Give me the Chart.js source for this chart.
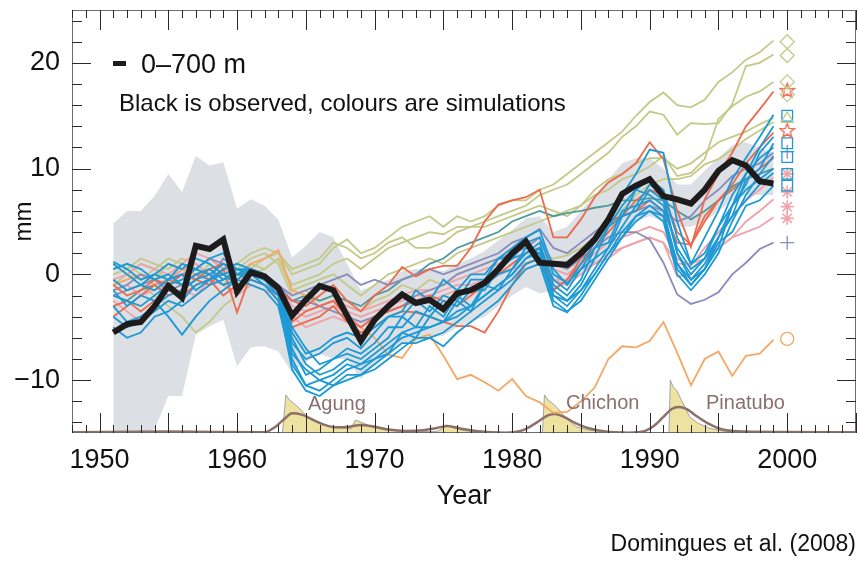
<!DOCTYPE html>
<html>
<head>
<meta charset="utf-8">
<title>Ocean heat content 0-700 m</title>
<script src="https://cdn.jsdelivr.net/npm/chart.js@4"></script>
<style>
    html, body { margin: 0; padding: 0; background: #fff; }
    #wrap { width: 859px; height: 561px; }
</style>
</head>
<body>
<div id="wrap"><canvas id="ohcChart" width="859" height="561"></canvas></div>
<script>
// --- data (mm) ---
const years = [1951, 1952, 1953, 1954, 1955, 1956, 1957, 1958, 1959, 1960,
               1961, 1962, 1963, 1964, 1965, 1966, 1967, 1968, 1969, 1970,
               1971, 1972, 1973, 1974, 1975, 1976, 1977, 1978, 1979, 1980,
               1981, 1982, 1983, 1984, 1985, 1986, 1987, 1988, 1989, 1990,
               1991, 1992, 1993, 1994, 1995, 1996, 1997, 1998, 1999];

const observed = [-5.5, -4.7, -4.5, -3.0, -1.1, -2.2, 2.7, 2.4, 3.3, -1.6,
                  0.2, -0.2, -1.3, -3.9, -2.4, -1.1, -1.5, -3.9, -6.3, -4.3,
                  -3.0, -1.9, -2.7, -2.4, -3.3, -1.8, -1.5, -0.8, 0.5, 2.0,
                  3.1, 1.1, 1.0, 0.9, 2.0, 3.3, 5.2, 7.6, 8.4, 9.0,
                  7.4, 7.1, 6.7, 8.0, 9.8, 10.8, 10.3, 8.8, 8.6];

const bandUpper = [4.8, 6.0, 6.0, 7.4, 9.5, 7.8, 11.2, 10.3, 10.6, 6.2,
                   7.1, 6.5, 5.2, 1.6, 2.7, 4.0, 3.5, 1.0, -1.5, -1.0,
                   -0.5, 0.3, 0.5, 0.5, 0.3, 1.0, 1.5, 2.2, 3.2, 4.2,
                   5.3, 5.5, 4.0, 4.5, 6.0, 7.5, 9.0, 10.5, 11.0, 11.0,
                   10.0, 8.5, 8.5, 9.8, 11.0, 12.2, 12.5, 12.0, 11.5];
const bandLower = [-15, -15, -15, -14.7, -11.5, -11.5, -5.7, -4.9, -4.3, -8.7,
                   -6.9, -6.8, -7.3, -9.3, -8.3, -7.5, -8.0, -8.0, -9.9, -8.5,
                   -7.4, -6.5, -6.3, -6.0, -5.8, -5.0, -4.5, -4.0, -3.0, -2.0,
                   -1.2, -1.8, -1.5, -1.0, 0.0, 1.0, 2.5, 4.0, 5.0, 5.5,
                   5.0, 4.5, 4.5, 5.0, 6.0, 7.0, 7.5, 7.5, 7.5];

const green1 = [0.5, 1.0, 0.0, -0.5, 1.0, 0.5, -0.5, 1.0, 0.0, -0.5,
                0.5, 1.5, 2.0, 0.0, 0.5, 1.0, 2.5, 3.3, 2.0, 2.5,
                3.5, 4.5, 5.0, 5.5, 4.5, 5.5, 5.0, 5.5, 6.5, 7.0,
                7.0, 8.0, 8.5, 9.5, 10.5, 11.5, 12.5, 13.5, 15.0, 16.3,
                17.2, 16.0, 15.8, 16.5, 18.2, 19.1, 20.3, 21.0, 22.1];
const green2 = [-1.0, 0.0, 1.0, 0.5, -0.5, 0.0, 0.5, -0.5, 0.5, 0.0,
                0.0, 0.5, 1.5, -1.0, -0.5, 0.0, 1.0, 1.5, 0.5, 1.5,
                2.5, 3.0, 3.5, 4.0, 3.8, 4.5, 4.5, 5.0, 5.5, 6.0,
                6.5, 7.5, 8.0, 8.5, 9.5, 10.5, 11.5, 13.0, 14.0, 15.4,
                15.1, 13.2, 14.3, 14.2, 14.3, 16.1, 19.7, 20.0, 20.8];
const green3 = [-2.0, -1.5, -1.0, -2.0, -3.0, -4.0, -5.5, -4.5, -3.0, -2.0,
                1.0, 0.5, 1.5, -1.5, -1.0, -0.5, 0.0, -1.0, -2.0, -1.0,
                0.0, 0.5, 1.0, 1.5, 1.0, 2.0, 2.5, 3.0, 3.5, 4.0,
                4.5, 5.0, 5.5, 6.0, 6.5, 7.5, 8.0, 9.0, 9.5, 10.2,
                11.2, 9.3, 9.6, 10.9, 14.7, 15.9, 16.8, 17.3, 18.2];
const green4 = [0.0, 0.5, 1.5, 1.0, 0.5, 1.5, 1.0, 0.0, -1.0, 0.5,
                1.5, 2.0, 1.0, -2.0, -1.5, -2.5, -2.0, -3.0, -3.5, -2.5,
                -2.0, -1.0, -1.5, -0.5, -1.0, 0.0, 0.5, 1.0, 1.5, 2.0,
                2.5, 2.0, 1.5, 1.8, 2.5, 3.5, 4.5, 6.0, 7.5, 8.5,
                9.0, 9.0, 9.3, 10.4, 10.9, 11.8, 12.8, 13.6, 14.4];
const green5 = [1.0, 0.0, -0.5, 0.5, 1.5, 1.0, 0.5, 1.5, 0.5, 1.0,
                2.0, 2.5, 2.0, 0.5, 1.0, 1.5, 3.0, 2.5, 1.5, 2.0,
                3.0, 3.5, 2.5, 2.5, 3.0, 4.0, 4.5, 4.5, 5.0, 5.5,
                6.0, 6.5, 6.0, 5.5, 6.5, 8.0, 9.0, 9.5, 10.5, 11.0,
                11.0, 10.0, 10.5, 11.5, 12.5, 13.0, 13.5, 14.2, 14.8];

const red1 = [-4.0, -3.0, -2.0, -1.0, -2.0, -1.5, -0.5, -1.0, 0.5, -3.6,
              0.0, -0.5, -1.5, -2.5, -3.0, -2.0, -1.0, -2.5, -3.5, -2.0,
              -1.0, 0.7, -0.2, 0.5, 0.8, 0.8, 2.5, 5.0, 6.6, 7.0,
              7.3, 8.0, 3.5, 3.5, 5.2, 7.3, 8.7, 9.5, 10.5, 12.5,
              10.9, 6.0, 2.6, 7.1, 9.5, 11.5, 14.0, 15.6, 17.3];
const red2 = [-1.0, -2.0, -1.5, -0.5, -1.0, 0.0, -0.5, 0.5, 1.0, 0.0,
              0.5, 0.0, -1.0, -4.5, -3.5, -3.0, -2.5, -4.0, -5.0, -4.0,
              -3.5, -3.0, -2.5, -2.0, -2.5, -3.0, -2.0, -1.0, 0.0, 1.0,
              2.0, 2.5, -1.5, -0.5, 1.5, 3.5, 5.0, 5.5, 6.0, 7.0,
              6.0, 3.0, 2.8, 5.5, 7.0, 8.0, 9.0, 10.0, 11.0];
const red3 = [-3.0, -2.5, -3.5, -2.5, -1.5, -2.0, -1.0, -0.5, -2.0, -1.0,
              -0.5, -1.0, -2.5, -5.0, -4.5, -4.0, -3.0, -4.5, -5.5, -5.0,
              -4.0, -3.5, -3.6, -4.0, -4.5, -4.9, -4.9, -5.5, -3.5, -1.0,
              1.0, 1.5, -1.5, -0.5, 1.0, 2.5, 4.0, 5.5, 7.0, 8.0,
              7.5, 4.0, 2.8, 5.0, 7.0, 8.5, 10.5, 12.0, 13.4];

const blue1 = [1.2, 0.5, -0.5, 0.0, 1.0, 0.5, 1.5, 1.0, 0.0, 0.5,
               0.5, -0.5, -1.5, -6.5, -8.0, -7.5, -6.5, -6.0, -7.0, -5.5,
               -4.0, -3.5, -1.5, -2.5, -0.5, -1.5, 0.0, 0.0, 1.5, 2.5,
               3.5, 4.2, 0.5, -1.0, 1.0, 3.0, 5.5, 7.5, 9.5, 11.8,
               11.5, 5.0, 1.0, 3.5, 6.0, 9.0, 11.0, 13.0, 15.1];
const blue2 = [-0.5, -1.5, -1.0, 0.0, -0.5, 1.0, 0.5, 1.5, 2.0, 0.0,
               0.5, 0.0, -1.0, -5.0, -7.0, -8.5, -8.0, -7.5, -8.0, -7.0,
               -6.0, -4.0, -5.0, -3.0, -4.0, -2.0, -3.0, -1.0, -1.5, 0.5,
               2.0, 3.0, -1.0, -2.0, -0.5, 2.5, 3.0, 6.0, 6.5, 8.5,
               7.5, 2.0, -0.5, 1.0, 3.5, 6.5, 9.5, 12.0, 14.0];
const blue3 = [-3.0, -4.5, -4.0, -3.0, -2.0, -1.5, -0.5, 0.0, 1.0, 0.5,
               0.0, -0.5, -2.0, -8.0, -10.5, -10.0, -9.5, -8.5, -9.0, -8.0,
               -7.5, -5.5, -6.0, -4.0, -4.5, -2.5, -3.5, -1.0, 0.0, 0.5,
               2.5, 2.0, -2.0, -3.0, -1.5, 0.5, 2.5, 4.5, 6.5, 7.0,
               6.0, 1.0, -1.0, 0.5, 3.5, 5.5, 9.0, 10.0, 12.4];
const blue4 = [-5.0, -6.0, -5.5, -4.0, -3.5, -2.5, -1.0, -0.5, 0.0, -1.0,
               -0.5, -1.0, -2.5, -9.0, -11.0, -11.5, -10.5, -9.5, -9.5, -9.0,
               -8.0, -7.0, -6.0, -6.0, -5.5, -4.5, -3.5, -2.5, -1.5, -0.5,
               1.0, 1.5, -2.5, -3.5, -2.5, -0.5, 1.5, 3.5, 5.5, 6.0,
               5.0, 0.0, -1.5, 0.0, 2.0, 5.0, 7.5, 9.5, 11.2];
const blue5 = [0.5, 1.0, 0.5, -0.5, 0.0, -1.0, 0.0, 0.5, -0.5, 0.0,
               0.0, -1.0, -2.0, -7.0, -9.5, -9.0, -8.0, -7.0, -7.5, -6.5,
               -5.0, -5.0, -3.5, -4.0, -2.5, -3.0, -1.5, -1.5, 0.5, 1.5,
               2.0, 2.5, -0.5, -1.5, 0.5, 1.5, 4.5, 5.5, 8.0, 7.5,
               6.5, 2.5, 0.5, 1.5, 3.5, 5.5, 7.0, 8.5, 9.6];
const blue6 = [-1.5, -3.0, -2.0, -2.5, -4.0, -5.7, -4.0, -2.5, -1.5, -0.5,
               0.5, 0.0, -1.5, -6.0, -8.5, -9.5, -9.0, -8.0, -8.5, -7.5,
               -6.5, -5.5, -5.0, -5.0, -4.5, -3.5, -3.0, -2.0, -1.0, 0.0,
               1.5, 2.0, -1.5, -2.5, -1.5, 0.0, 2.0, 4.0, 5.5, 6.5,
               5.5, 1.0, -0.5, 0.5, 3.0, 4.0, 6.5, 7.0, 8.4];
const blue7 = [-4.0, -5.0, -4.5, -3.5, -2.5, -3.0, -2.0, -1.0, -0.5, 0.5,
               0.0, -0.5, -1.0, -7.5, -9.0, -10.0, -10.5, -10.0, -9.5, -8.5,
               -7.5, -6.5, -6.5, -6.0, -6.8, -5.5, -4.5, -3.5, -2.5, -1.0,
               0.5, 1.0, -3.0, -3.6, -2.0, 0.0, 2.0, 3.5, 5.0, 6.0,
               5.5, 0.5, -1.0, 0.5, 2.5, 6.5, 8.5, 11.5, 13.0];
const blue8 = [1.0, 0.0, -1.0, -1.5, -0.5, 0.0, -1.5, -0.5, 0.5, 1.0,
               0.5, -0.5, -1.5, -5.5, -7.5, -7.0, -6.0, -5.5, -6.0, -5.0,
               -4.0, -4.0, -2.5, -3.5, -2.0, -2.5, -0.5, -0.5, 1.5, 1.5,
               3.0, 3.5, 0.0, -0.8, 0.5, 2.5, 4.5, 6.5, 8.0, 9.0,
               8.0, 3.5, 1.0, 2.0, 4.5, 6.5, 8.0, 9.0, 10.0];
const blue9 = [-2.0, -2.5, -3.0, -2.0, -1.0, -0.5, 0.5, 0.0, -1.0, -0.5,
               -1.0, -1.5, -3.0, -8.5, -10.5, -11.0, -10.0, -9.0, -8.5, -8.0,
               -7.0, -6.0, -5.5, -5.0, -4.5, -4.0, -3.0, -2.0, -1.0, 0.0,
               1.5, 2.5, -2.0, -2.5, -1.0, 1.5, 2.5, 5.5, 6.0, 8.0,
               7.0, 2.0, 0.0, 1.5, 4.5, 7.5, 9.5, 11.0, 12.0];

const pink1 = [-0.5, 0.0, 1.0, 0.5, 0.0, 1.0, 2.0, 1.5, 0.5, 0.0,
               0.0, -0.5, -1.0, -3.0, -3.5, -3.0, -2.5, -3.0, -3.5, -3.0,
               -2.5, -2.0, -1.5, -1.5, -1.0, -0.5, 0.0, 0.5, 1.0, 1.5,
               2.0, 2.5, 0.5, 0.0, 1.0, 2.0, 3.0, 3.5, 4.0, 4.5,
               4.0, 1.5, 0.8, 2.5, 4.0, 5.5, 7.0, 8.0, 9.2];
const pink2 = [-2.5, -3.5, -4.5, -3.0, -2.0, -1.5, -2.0, -0.5, -1.0, -2.0,
               -1.0, -1.5, -2.0, -4.0, -5.0, -4.5, -4.0, -4.5, -5.0, -4.0,
               -3.5, -3.0, -2.5, -2.5, -2.0, -1.5, -1.5, -1.0, 0.0, 0.5,
               1.0, 1.5, -0.5, -1.0, 0.0, 1.0, 1.5, 2.5, 3.0, 3.5,
               3.0, -0.2, 0.0, 1.5, 2.5, 3.5, 5.0, 6.0, 7.1];
const pink3 = [-1.5, -1.0, -2.0, -1.5, -1.0, 0.5, 1.0, 0.0, -1.0, -0.5,
               -0.5, -1.0, -1.5, -3.5, -4.0, -3.5, -3.0, -3.5, -4.0, -3.5,
               -3.0, -2.5, -2.0, -2.0, -1.5, -1.0, -1.0, -0.5, 0.0, 0.5,
               1.0, 1.5, -0.5, -0.5, 0.5, 1.0, 2.0, 2.5, 3.0, 3.5,
               3.0, 1.0, 1.0, 1.5, 2.5, 3.5, 4.0, 4.5, 5.4];

const purple1 = [-1.5, -1.0, 0.0, -0.5, -1.0, 0.0, 0.5, 1.5, 1.0, 0.0,
                 0.5, 0.0, -1.0, -2.5, -2.5, -3.0, -3.5, -4.0, -4.5, -4.0,
                 -3.5, -3.0, -2.0, -1.5, -1.0, 0.0, 0.5, 1.0, 1.5, 2.0,
                 2.5, 3.5, 1.0, 0.5, 1.5, 2.5, 3.5, 4.0, 4.0, 3.3,
                 1.1, -1.9, -2.8, -2.4, -1.7, 0.0, 1.1, 2.4, 3.0];
const purple2 = [-2.0, -1.5, -1.0, -0.5, -1.5, -1.0, 0.0, -0.5, 1.5, 0.5,
                 0.0, -0.5, -1.0, -2.0, -1.5, -1.0, -0.5, 0.0, -1.0, -0.5,
                 -1.0, -0.5, 0.0, 0.5, 0.0, 0.5, 1.0, 1.5, 2.0, 3.0,
                 3.5, 4.3, 2.5, 2.0, 3.0, 4.0, 5.0, 5.5, 6.0, 6.5,
                 6.0, 5.0, 5.5, 7.0, 8.0, 9.3, 10.0, 10.5, 11.5];
const teal1 = [-2.0, -2.5, -1.5, -1.0, -0.5, -1.0, 0.0, -0.5, 0.5, 0.0,
               -0.5, -1.0, -1.5, -2.5, -2.0, -2.5, -2.0, -2.5, -3.0, -2.0,
               -1.5, -0.5, 0.0, 1.0, 1.5, 2.5, 3.0, 3.5, 4.0, 5.0,
               5.5, 6.0, 5.5, 5.8, 6.0, 6.3, 6.5, 7.0, 7.0, 7.2,
               7.0, 6.0, 5.2, 6.0, 7.0, 8.3, 9.0, 9.5, 10.0];
const orange1 = [-1.0, -0.5, 0.0, -1.0, -0.5, 0.5, 0.0, -0.5, 0.5, 0.0,
                 1.0, 1.5, 2.3, -1.5, -2.0, -3.0, -2.5, -4.0, -5.0, -6.0,
                 -7.6, -7.9, -6.1, -5.7, -7.7, -9.9, -9.5, -10.2, -11.0, -9.9,
                 -11.5, -12.1, -13.1, -13.0, -12.0, -10.7, -8.0, -6.8, -6.9, -6.3,
                 -4.5, -7.4, -10.5, -8.0, -7.3, -9.6, -7.7, -7.5, -6.2];

// end-of-run symbols plotted at 2000
const markerYear = 2000;
const diamondVals = [22.0, 20.7, 18.2, 17.0];
const triangleVals = [14.7];
const starVals = [17.4, 13.6];
const squareVals = [15.0, 12.4, 11.1, 9.5, 8.4];
const plusVals = [11.6, 3.0];
const asteriskVals = [9.5, 7.8, 6.4, 5.3];
const circleVals = [-6.1];

// volcanic aerosol (arbitrary optical depth units)
const volcYears = [1948, 1963.3, 1963.55, 1963.8, 1964.1, 1964.5, 1965.0, 1965.5, 1966.2, 1967.0,
                   1968.3, 1968.6, 1968.8, 1969.2, 1969.8, 1970.6, 1971.6, 1972.8, 1974.5, 1974.9,
                   1975.2, 1975.7, 1976.5, 1977.5, 1982.2, 1982.35, 1982.6, 1982.9, 1983.3, 1983.7,
                   1984.1, 1984.7, 1985.6, 1987.0, 1991.4, 1991.5, 1991.7, 1991.95, 1992.3, 1992.55,
                   1992.9, 1993.5, 1994.3, 1995.4, 1997.0, 2005];
const volcDepth = [0, 0, 0.108, 0.094, 0.085, 0.071, 0.051, 0.035, 0.026, 0.016,
                   0.012, 0.037, 0.034, 0.028, 0.017, 0.010, 0.006, 0.004, 0.004, 0.012,
                   0.023, 0.015, 0.007, 0.002, 0, 0.108, 0.094, 0.085, 0.071, 0.052,
                   0.035, 0.017, 0.008, 0.002, 0, 0.150, 0.131, 0.122, 0.094, 0.075,
                   0.046, 0.028, 0.014, 0.005, 0.002, 0.001];
const smoothYears = [1948, 1955, 1962.0, 1962.8, 1963.5, 1964.0, 1964.7, 1965.5, 1966.3, 1967.2,
                     1968.2, 1969.0, 1970.0, 1971.0, 1972.3, 1973.5, 1974.5, 1975.3, 1976.3, 1977.5,
                     1979.5, 1980.8, 1981.8, 1982.6, 1983.1, 1983.8, 1984.6, 1985.5, 1986.8, 1988.5,
                     1989.5, 1990.3, 1991.0, 1991.6, 1992.1, 1992.7, 1993.4, 1994.2, 1995.3, 1997.0,
                     2000.0, 2005];
const smoothDepth = [0.002, 0.004, 0.002, 0.018, 0.042, 0.056, 0.052, 0.038, 0.024, 0.016,
                     0.018, 0.023, 0.018, 0.010, 0.006, 0.008, 0.014, 0.020, 0.012, 0.005,
                     0.001, 0.008, 0.030, 0.050, 0.054, 0.045, 0.028, 0.014, 0.004, 0.001,
                     0.004, 0.020, 0.046, 0.068, 0.074, 0.068, 0.048, 0.028, 0.010, 0.004,
                     0.003, 0.002];

const xTicks = [1950, 1960, 1970, 1980, 1990, 2000];
const yTicks = [-10, 0, 10, 20];

const colors = {
    green: '#c3ca88',
    red: '#ec6a4d',
    blue: '#1b9ad6',
    pink: '#f0a2a8',
    purple: '#8a8cbd',
    teal: '#4f9a9b',
    orange: '#f5a764',
    black: '#1d1b1b',
    band: '#dcdfe4',
    volc: '#ede2a0',
    smooth: '#8e706b',
    label: '#8a7070'
};
const fontFamily = "'Liberation Sans', Arial, Helvetica, sans-serif";

const simulations = [
    [green1, colors.green], [green2, colors.green], [green3, colors.green],
    [green4, colors.green], [green5, colors.green],
    [teal1, colors.teal], [orange1, colors.orange],
    [pink1, colors.pink], [pink2, colors.pink], [pink3, colors.pink],
    [purple1, colors.purple], [purple2, colors.purple],
    [red1, colors.red], [red2, colors.red], [red3, colors.red],
    [blue1, colors.blue], [blue2, colors.blue], [blue3, colors.blue],
    [blue4, colors.blue], [blue5, colors.blue], [blue6, colors.blue],
    [blue7, colors.blue], [blue8, colors.blue], [blue9, colors.blue]
];

const toPoints = (xs, ys) => xs.map((x, i) => ({ x: x, y: ys[i] }));
const atMarker = vals => vals.map(v => ({ x: markerYear, y: v }));

// hollow five-point star for two of the runs
function starImage(color) {
    const c = document.createElement('canvas');
    c.width = 17; c.height = 17;
    const g = c.getContext('2d');
    g.strokeStyle = color;
    g.lineWidth = 1.4;
    g.beginPath();
    for (let i = 0; i < 10; i++) {
        const r = i % 2 ? 3.2 : 7.5;
        const a = -Math.PI / 2 + i * Math.PI / 5;
        const px = 8.5 + r * Math.cos(a), py = 9 + r * Math.sin(a);
        if (i === 0) g.moveTo(px, py); else g.lineTo(px, py);
    }
    g.closePath();
    g.stroke();
    return c;
}

// no label overhang padding: the plot box is fixed by layout padding and afterFit
function fixBox(size, key) {
    return s => {
        s[key] = size;
        s.paddingTop = 0; s.paddingBottom = 0; s.paddingLeft = 0; s.paddingRight = 0;
    };
}

// frame plus inward tick marks on all four sides
const frameTicks = {
    id: 'frameTicks',
    afterDatasetsDraw(chart) {
        const { ctx, chartArea: a, scales: { x, y } } = chart;
        ctx.save();
        ctx.strokeStyle = '#6c6c6c';
        ctx.lineWidth = 1;
        ctx.strokeRect(a.left + 0.5, a.top + 0.5, a.right - a.left - 1, a.bottom - a.top - 1);
        ctx.strokeStyle = '#2a2a2a';
        ctx.beginPath();
        for (let yr = Math.ceil(x.min); yr <= x.max; yr++) {
            const px = Math.round(x.getPixelForValue(yr)) + 0.5;
            const len = yr % 5 === 0 ? 20 : 8;
            ctx.moveTo(px, a.bottom); ctx.lineTo(px, a.bottom - len);
            ctx.moveTo(px, a.top); ctx.lineTo(px, a.top + len);
        }
        for (let v = -14; v <= 24; v += 2) {
            const py = Math.round(y.getPixelForValue(v)) + 0.5;
            const len = v % 10 === 0 ? 19 : 10;
            ctx.moveTo(a.left, py); ctx.lineTo(a.left + len, py);
            ctx.moveTo(a.right, py); ctx.lineTo(a.right - len, py);
        }
        ctx.stroke();
        ctx.restore();
    }
};

// key text and volcano names
const annotations = {
    id: 'annotations',
    afterDraw(chart) {
        const { ctx } = chart;
        ctx.save();
        ctx.fillStyle = colors.black;
        ctx.fillRect(113, 61, 13, 5);
        ctx.fillStyle = '#111';
        ctx.textBaseline = 'alphabetic';
        ctx.font = '27px ' + fontFamily;
        ctx.fillText('0\u2013700 m', 141, 73);
        ctx.font = '24px ' + fontFamily;
        ctx.fillText('Black is observed, colours are simulations', 119, 111);
        ctx.fillStyle = colors.label;
        ctx.font = '20px ' + fontFamily;
        ctx.fillText('Agung', 308, 410);
        ctx.fillText('Chichon', 566, 409);
        ctx.fillText('Pinatubo', 706, 409);
        ctx.restore();
    }
};

const datasets = [];

// observed, on top
datasets.push({
    label: 'Observed', data: toPoints(years, observed),
    borderColor: colors.black, borderWidth: 6, borderJoinStyle: 'miter',
    pointRadius: 0, fill: false, order: 0
});

// end symbols
const markerBase = { type: 'scatter', backgroundColor: 'rgba(0,0,0,0)', borderWidth: 1.3, order: 1 };
datasets.push(Object.assign({}, markerBase, { label: 'diamonds', data: atMarker(diamondVals), pointStyle: 'rectRot', pointRadius: 7, borderColor: colors.green }));
datasets.push(Object.assign({}, markerBase, { label: 'triangle', data: atMarker(triangleVals), pointStyle: 'triangle', pointRadius: 7, borderColor: colors.green }));
datasets.push(Object.assign({}, markerBase, { label: 'stars', data: atMarker(starVals), pointStyle: starImage(colors.red), pointRadius: 8, borderColor: colors.red }));
datasets.push(Object.assign({}, markerBase, { label: 'squares', data: atMarker(squareVals), pointStyle: 'rect', pointRadius: 7.5, borderColor: colors.blue }));
datasets.push(Object.assign({}, markerBase, { label: 'plus', data: atMarker(plusVals), pointStyle: 'cross', pointRadius: 7, borderColor: colors.purple }));
datasets.push(Object.assign({}, markerBase, { label: 'asterisk', data: atMarker(asteriskVals), pointStyle: 'star', pointRadius: 6.5, borderColor: colors.pink, borderWidth: 1.6 }));
datasets.push(Object.assign({}, markerBase, { label: 'circle', data: atMarker(circleVals), pointStyle: 'circle', pointRadius: 6.5, borderColor: colors.orange }));

// simulations
simulations.forEach(([vals, color], i) => {
    datasets.push({
        label: 'run ' + (i + 1), data: toPoints(years, vals),
        borderColor: color, borderWidth: 1.8, pointRadius: 0,
        fill: false, tension: 0, order: 40 - i
    });
});

// volcanic forcing strip
datasets.push({
    label: 'smoothed aerosol', data: toPoints(smoothYears, smoothDepth), yAxisID: 'yv',
    borderColor: colors.smooth, borderWidth: 2.5, pointRadius: 0,
    cubicInterpolationMode: 'monotone', fill: false, order: 60
});
datasets.push({
    label: 'aerosol', data: toPoints(volcYears, volcDepth), yAxisID: 'yv',
    borderColor: '#a3a3a6', borderWidth: 1, pointRadius: 0,
    backgroundColor: colors.volc, fill: 'origin', order: 61
});

// model spread
datasets.push({
    label: 'spread upper', data: toPoints(years, bandUpper),
    borderWidth: 0, borderColor: 'rgba(0,0,0,0)', pointRadius: 0,
    backgroundColor: colors.band, fill: '+1', order: 80
});
datasets.push({
    label: 'spread lower', data: toPoints(years, bandLower),
    borderWidth: 0, borderColor: 'rgba(0,0,0,0)', pointRadius: 0,
    fill: false, order: 81
});

Chart.defaults.font.family = fontFamily;
Chart.defaults.color = '#111';

const ctx = document.getElementById('ohcChart').getContext('2d');
new Chart(ctx, {
    type: 'line',
    data: { datasets: datasets },
    options: {
        responsive: false,
        animation: false,
        events: [],
        layout: { autoPadding: false, padding: { top: 10, right: 3, left: 0, bottom: 0 } },
        plugins: {
            legend: { display: false },
            tooltip: { enabled: false },
            title: {
                display: true, text: 'Domingues et al. (2008)', position: 'bottom', align: 'end',
                color: '#111', font: { size: 23, weight: 'normal' }, padding: { top: 10, bottom: 3 }
            }
        },
        scales: {
            x: {
                type: 'linear', min: 1948, max: 2005,
                grid: { display: false, drawTicks: false }, border: { display: false },
                afterBuildTicks: s => { s.ticks = xTicks.map(v => ({ value: v })); },
                afterFit: fixBox(87.4, 'height'),
                ticks: { font: { size: 27 }, color: '#111', padding: 11, maxRotation: 0, autoSkip: false, callback: v => String(v) },
                title: { display: true, text: 'Year', font: { size: 27 }, color: '#111', padding: { top: 0, bottom: 7.5 } }
            },
            y: {
                type: 'linear', min: -15, max: 25,
                grid: { display: false, drawTicks: false }, border: { display: false },
                afterBuildTicks: s => { s.ticks = yTicks.map(v => ({ value: v })); },
                afterFit: fixBox(72, 'width'),
                ticks: { font: { size: 27 }, color: '#111', padding: 12, callback: v => v < 0 ? '\u2212' + Math.abs(v) : String(v) },
                title: { display: true, text: 'mm', font: { size: 24 }, color: '#111', padding: { top: 10, bottom: 0 } }
            },
            yv: {
                type: 'linear', axis: 'y', position: 'left', display: false, min: 0, max: 1.2
            }
        }
    },
    plugins: [frameTicks, annotations]
});
</script>
</body>
</html>
